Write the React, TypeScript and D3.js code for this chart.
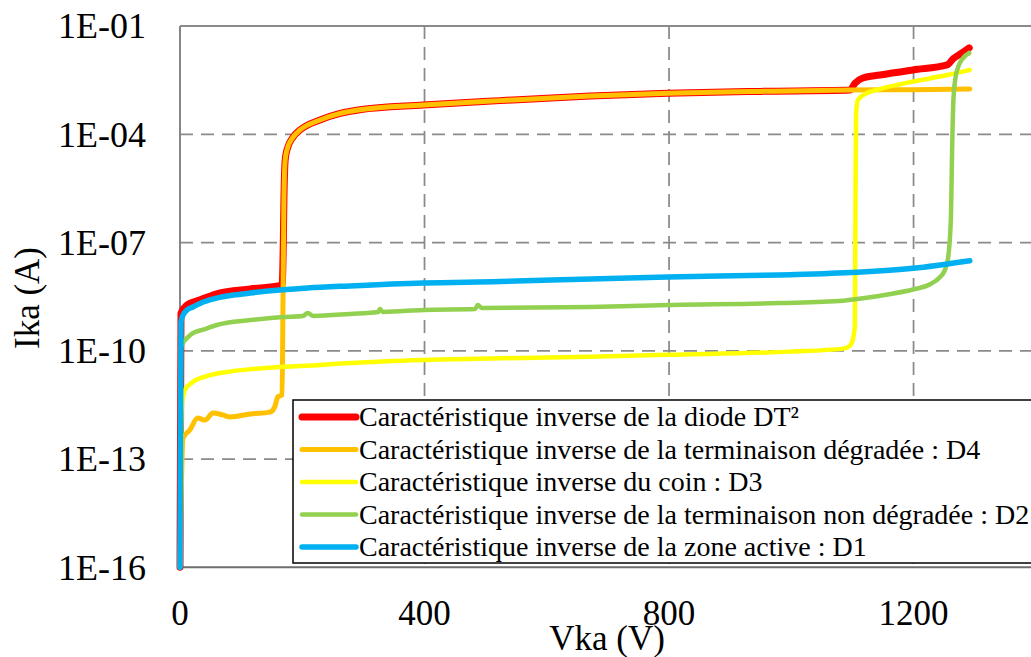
import React from 'react';
import * as d3 from 'd3';

type Pt = [number, number];

const xTicks = [0, 400, 800, 1200];
const xGrid = [400, 800, 1200, 1600];
const yTicks = [1e-16, 1e-13, 1e-10, 1e-7, 1e-4, 1e-1];
const yTickLabels = ['1E-16', '1E-13', '1E-10', '1E-07', '1E-04', '1E-01'];
const xTitle = 'Vka (V)';
const yTitle = 'Ika (A)';

// Caractéristique inverse de la diode DT²
const dt2: Pt[] = [
  [0, 1e-16], [1.6, 1.1e-9], [11.5, 1.86e-9], [33, 2.6e-9], [60, 3.8e-9], [115, 5.2e-9],
  [160, 6.3e-9], [167, 6.7e-9], [169, 1e-7], [170, 1.5e-6], [172, 1.9e-5], [175, 3.7e-5],
  [185, 8.4e-5], [196, 1.3e-4], [229, 2.5e-4], [262, 3.8e-4], [294, 4.8e-4], [398, 6.5e-4],
  [523, 8.6e-4], [671, 1.15e-3], [798, 1.37e-3], [949, 1.55e-3], [1096, 1.69e-3],
  [1104, 2.6e-3], [1117, 3.65e-3], [1145, 4.4e-3], [1199, 6.1e-3], [1255, 8.4e-3],
  [1265, 1.25e-2], [1279, 1.8e-2], [1291, 2.5e-2],
];

// Caractéristique inverse de la terminaison dégradée : D4
const d4: Pt[] = [
  [0, 1e-16], [5, 3.8e-13], [16, 6.4e-13], [29, 1.37e-12], [41, 1.2e-12], [54, 1.9e-12],
  [70, 1.67e-12], [82, 1.47e-12], [115, 1.78e-12], [147, 2.0e-12], [155, 2.8e-12],
  [160, 5.3e-12], [167, 6.0e-12], [168.5, 2.6e-9], [170, 1.5e-6], [172, 1.9e-5], [175, 3.7e-5],
  [185, 8.4e-5], [196, 1.3e-4], [229, 2.5e-4], [262, 3.8e-4], [294, 4.8e-4], [398, 6.5e-4],
  [523, 8.6e-4], [671, 1.15e-3], [798, 1.37e-3], [949, 1.55e-3], [1096, 1.69e-3],
  [1199, 1.73e-3], [1292, 1.8e-3],
];

// Caractéristique inverse du coin : D3
const d3c: Pt[] = [
  [0, 1e-16], [3, 3.1e-12], [8, 8.2e-12], [21, 1.37e-11], [44, 2.0e-11], [77, 2.6e-11],
  [115, 3.1e-11], [168, 3.6e-11], [224, 4.0e-11], [278, 4.6e-11], [398, 5.6e-11],
  [523, 6.2e-11], [671, 6.9e-11], [798, 7.8e-11], [998, 9.5e-11], [1085, 1.15e-10],
  [1096, 1.4e-10], [1101, 2.2e-10], [1104, 5e-10], [1105, 1.5e-6], [1106, 3.9e-4],
  [1109, 9.0e-4], [1124, 1.4e-3], [1145, 1.8e-3], [1199, 2.9e-3], [1255, 4.4e-3],
  [1292, 6.1e-3],
];

// Caractéristique inverse de la terminaison non dégradée : D2
const d2: Pt[] = [
  [0, 1e-16], [1.6, 1.2e-10], [5, 1.64e-10], [13, 2.4e-10], [21, 3.1e-10], [41, 4.0e-10],
  [60, 5.2e-10], [115, 7.1e-10], [168, 8.6e-10], [201, 9.2e-10], [209, 1.12e-9],
  [218, 9.3e-10], [278, 1.05e-9], [324, 1.19e-9], [327, 1.44e-9], [332, 1.2e-9],
  [398, 1.36e-9], [483, 1.44e-9], [487, 1.86e-9], [494, 1.54e-9], [671, 1.64e-9],
  [798, 1.86e-9], [981, 2.1e-9], [1085, 2.45e-9], [1120, 2.9e-9], [1160, 3.7e-9],
  [1199, 5.0e-9], [1227, 7.0e-9], [1243, 1.1e-8], [1251, 1.7e-8], [1256, 3.3e-8],
  [1261, 4.3e-7], [1263, 3.1e-5], [1265, 7.5e-4], [1268, 3.2e-3], [1273, 7.4e-3],
  [1281, 1.3e-2], [1291, 1.8e-2],
];

// Caractéristique inverse de la zone active : D1
const d1: Pt[] = [
  [0, 1e-16], [1.6, 6.3e-10], [5, 9.8e-10], [11.5, 1.35e-9], [21, 1.64e-9], [38, 2.25e-9],
  [60, 2.9e-9], [87, 3.5e-9], [115, 4.0e-9], [168, 4.9e-9], [208, 5.5e-9], [278, 6.3e-9],
  [398, 7.6e-9], [523, 8.3e-9], [671, 9.8e-9], [798, 1.11e-8], [981, 1.27e-8],
  [1107, 1.5e-8], [1199, 1.94e-8], [1292, 3.15e-8],
];

const seriesNames = [
  'Caractéristique inverse de la diode DT²',
  'Caractéristique inverse de la terminaison dégradée : D4',
  'Caractéristique inverse du coin : D3',
  'Caractéristique inverse de la terminaison non dégradée : D2',
  'Caractéristique inverse de la zone active : D1',
];
const seriesData = [dt2, d4, d3c, d2, d1];
const seriesColors = ['#FF0000', '#FFC000', '#FFFF00', '#92D050', '#00B0F0'];
const seriesWidths = [7, 5, 4.5, 4.5, 5.5];

const W = 1031;
const H = 657;
const FONT = '"Liberation Serif", "Times New Roman", serif';

export default function App() {
  const x = d3.scaleLinear().domain([0, 1600]).range([180, 180 + 1600 * 0.6113]);
  const y = d3.scaleLog().domain([1e-16, 1e-1]).range([567.3, 26.1]);
  const line = d3
    .line<Pt>()
    .x((d) => x(d[0]))
    .y((d) => y(d[1]))
    .curve(d3.curveMonotoneX);

  const left = x(0);
  const right = x(1600);
  const top = y(1e-1);
  const bottom = y(1e-16);
  const gridColor = '#8a8a8a';

  const legX = 293;
  const legY = 400;
  const legRowY = (i: number) => 417 + i * 32.5;

  return (
    <svg
      width={W}
      height={H}
      style={{ position: 'absolute', left: 0, top: 0, background: '#fff' }}
      fontFamily={FONT}
    >
      <rect x={0} y={0} width={W} height={H} fill="#fff" />
      {/* horizontal grid */}
      {yTicks.slice(1, -1).map((t) => (
        <line key={'h' + t} x1={left} x2={right} y1={y(t)} y2={y(t)} stroke={gridColor}
          strokeWidth={1.75} strokeDasharray="13,8" />
      ))}
      {/* vertical grid */}
      {xGrid.map((t) => (
        <line key={'v' + t} x1={x(t)} x2={x(t)} y1={top} y2={bottom} stroke={gridColor}
          strokeWidth={1.75} strokeDasharray="13,8" />
      ))}
      {/* plot border / axes */}
      <line x1={left} x2={right} y1={top} y2={top} stroke={gridColor} strokeWidth={2} />
      <line x1={left} x2={left} y1={top} y2={bottom} stroke="#868686" strokeWidth={2} />
      <line x1={left} x2={right} y1={bottom} y2={bottom} stroke="#6e6e6e" strokeWidth={2} />

      {/* series */}
      {seriesData.map((data, i) => (
        <path key={'s' + i} d={line(data) || ''} fill="none" stroke={seriesColors[i]}
          strokeWidth={seriesWidths[i]} strokeLinecap="round" strokeLinejoin="round" />
      ))}

      {/* legend */}
      <rect x={legX} y={legY} width={760} height={163} fill="#fff" stroke="#000" strokeWidth={1.5} />
      {seriesNames.map((name, i) => (
        <g key={'l' + i}>
          <line x1={302} x2={356} y1={legRowY(i)} y2={legRowY(i)} stroke={seriesColors[i]}
            strokeWidth={seriesWidths[i]} strokeLinecap="round" />
          <text x={359} y={legRowY(i)} dy="0.33em" fontSize={28} fill="#000">{name}</text>
        </g>
      ))}

      {/* y tick labels */}
      {yTicks.map((t, i) => (
        <text key={'yt' + t} x={146} y={y(t)} dy="0.34em" textAnchor="end" fontSize={36} fill="#000">
          {yTickLabels[i]}
        </text>
      ))}
      {/* x tick labels */}
      {xTicks.map((t) => (
        <text key={'xt' + t} x={x(t)} y={625} textAnchor="middle" fontSize={35} fill="#000">
          {t}
        </text>
      ))}
      {/* axis titles */}
      <text x={607} y={650} textAnchor="middle" fontSize={35} fill="#000">{xTitle}</text>
      <text transform="translate(39,298) rotate(-90)" textAnchor="middle" fontSize={35} fill="#000">
        {yTitle}
      </text>
    </svg>
  );
}
